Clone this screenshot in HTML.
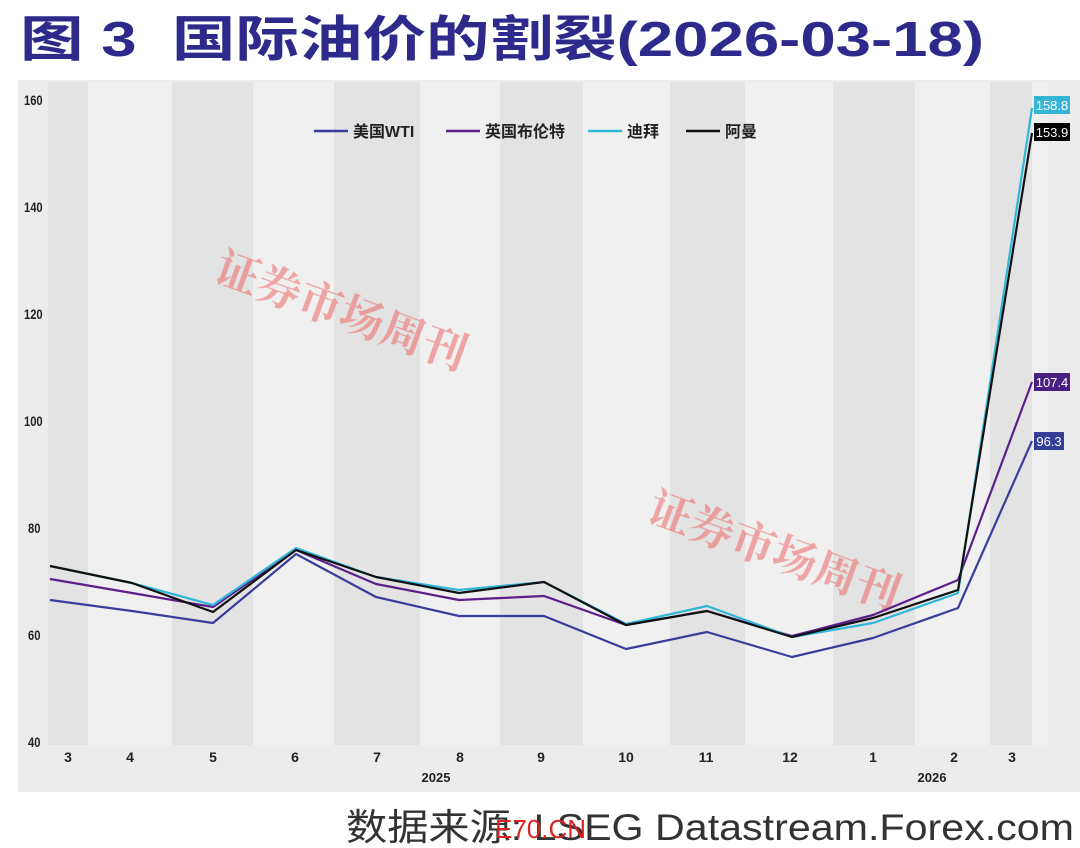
<!DOCTYPE html>
<html><head><meta charset="utf-8"><style>
body{margin:0;width:1080px;height:848px;background:#fff;overflow:hidden;position:relative;font-family:"Liberation Sans","Noto Sans CJK SC",sans-serif}
</style></head><body>
<svg width="1080" height="848" style="position:absolute;left:0;top:0">
<text x="20" y="56" font-size="49" font-weight="bold" fill="#2e2a8c" font-family="Liberation Sans,Noto Sans CJK SC,sans-serif" textLength="964" lengthAdjust="spacingAndGlyphs" xml:space="preserve">图 3  国际油价的割裂(2026-03-18)</text>
<rect x="18" y="80" width="1062" height="712" fill="#ececec"/>
<rect x="48" y="82" width="1000" height="663" fill="#f0f0f0"/>
<g fill="#e3e3e3">
<rect x="48" y="82" width="40" height="663"/><rect x="172" y="82" width="81" height="663"/><rect x="334" y="82" width="86" height="663"/><rect x="500" y="82" width="83" height="663"/><rect x="670" y="82" width="75" height="663"/><rect x="833" y="82" width="82" height="663"/><rect x="990" y="82" width="42" height="663"/>
</g>
<g font-size="14" font-weight="bold" fill="#222" font-family="Liberation Sans,sans-serif" transform="scale(0.8,1)">
<text x="30" y="105">160</text><text x="30" y="212">140</text><text x="30" y="319">120</text><text x="30" y="426">100</text><text x="35" y="533">80</text><text x="35" y="640">60</text><text x="35" y="747">40</text>
</g>
<g font-size="14" font-weight="bold" fill="#222" text-anchor="middle" font-family="Liberation Sans,sans-serif">
<text x="68" y="762">3</text><text x="130" y="762">4</text><text x="213" y="762">5</text><text x="295" y="762">6</text><text x="377" y="762">7</text><text x="460" y="762">8</text><text x="541" y="762">9</text><text x="626" y="762">10</text><text x="706" y="762">11</text><text x="790" y="762">12</text><text x="873" y="762">1</text><text x="954" y="762">2</text><text x="1012" y="762">3</text>
<text x="436" y="782" font-size="13">2025</text><text x="932" y="782" font-size="13">2026</text>
</g>
<g fill="#e66" opacity="0.55" font-size="44" font-weight="bold" font-family="Noto Serif CJK SC,serif">
<text transform="translate(212,280) rotate(20)">证券市场周刊</text>
<text transform="translate(645,520) rotate(20)">证券市场周刊</text>
</g>
<g fill="none" stroke-width="2.2" stroke-linejoin="round">
<polyline stroke="#3a3c9c" points="50,600 132,611 213,623 296,554 376,597 459,616 544,616 626,649 707,632 792,657 873,638 958,608 1032,441"/>
<polyline stroke="#5a1f8c" points="50,579 132,593 213,607 296,550 376,584 459,600 544,596 626,625 707,611 792,636 873,615 958,580 1032,382"/>
<polyline stroke="#2fb6d8" points="50,566 132,583 213,605 296,548 376,577 459,590 544,582 626,624 707,606 792,637 873,623 958,593 1032,108"/>
<polyline stroke="#111" points="50,566 132,583 213,612 296,550 376,577 459,593 544,582 626,625 707,611 792,637 873,618 958,590 1032,133"/>
</g>
<rect x="1034" y="96" width="36" height="18" fill="#35b5d6"/><text x="1052" y="110" fill="#fff" font-size="13" text-anchor="middle">158.8</text>
<rect x="1034" y="123" width="36" height="18" fill="#000"/><text x="1052" y="137" fill="#fff" font-size="13" text-anchor="middle">153.9</text>
<rect x="1034" y="373" width="36" height="18" fill="#4a1f82"/><text x="1052" y="387" fill="#fff" font-size="13" text-anchor="middle">107.4</text>
<rect x="1034" y="432" width="30" height="18" fill="#333f99"/><text x="1049" y="446" fill="#fff" font-size="13" text-anchor="middle">96.3</text>
<g font-size="16" font-weight="bold" fill="#222" font-family="Liberation Sans,Noto Sans CJK SC,sans-serif">
<line x1="314" y1="131" x2="348" y2="131" stroke="#3a3c9c" stroke-width="2.5"/><text x="353" y="137">美国WTI</text>
<line x1="446" y1="131" x2="480" y2="131" stroke="#5a1f8c" stroke-width="2.5"/><text x="485" y="137">英国布伦特</text>
<line x1="588" y1="131" x2="622" y2="131" stroke="#2fb6d8" stroke-width="2.5"/><text x="627" y="137">迪拜</text>
<line x1="686" y1="131" x2="720" y2="131" stroke="#111" stroke-width="2.5"/><text x="725" y="137">阿曼</text>
</g>
<text x="346" y="840" font-size="37" fill="#333" font-family="Liberation Sans,Noto Sans CJK SC,sans-serif" textLength="728" lengthAdjust="spacingAndGlyphs">数据来源: LSEG Datastream.Forex.com</text>
<text x="495" y="838" font-size="26" fill="#d22" font-family="Liberation Sans,sans-serif">E70.CN</text>
</svg>
</body></html>
